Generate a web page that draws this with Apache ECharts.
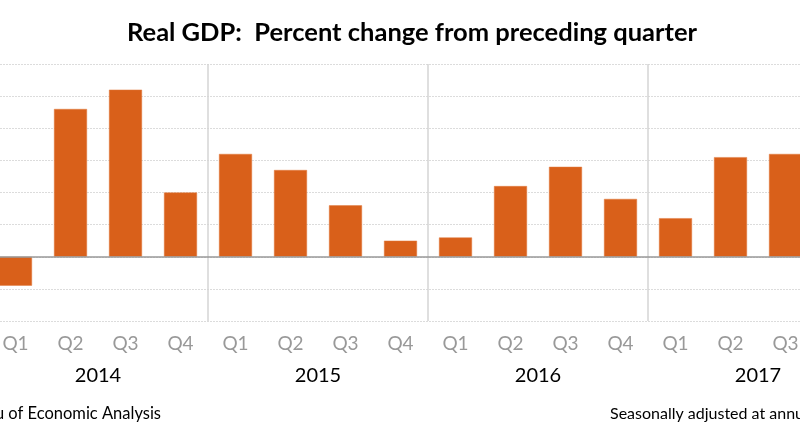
<!DOCTYPE html>
<html>
<head>
<meta charset="utf-8">
<script src="https://cdn.jsdelivr.net/npm/echarts@6/dist/echarts.min.js"></script>
<style>
html,body{margin:0;padding:0;background:#fff;}
#c{width:800px;height:443px;}
</style>
</head>
<body>
<div id="c"></div>
<script>
var quarters = ['Q1','Q2','Q3','Q4','Q1','Q2','Q3','Q4','Q1','Q2','Q3','Q4','Q1','Q2','Q3','Q4'];
var years = ['2014','2015','2016','2017'];
var gdpChange = [-0.9, 4.6, 5.2, 2.0, 3.2, 2.7, 1.6, 0.5, 0.6, 2.2, 2.8, 1.8, 1.2, 3.1, 3.2, null];
var titleText = 'Real GDP:  Percent change from preceding quarter';
var sourceText = 'Source: U.S. Bureau of Economic Analysis';
var noteText = 'Seasonally adjusted at annual rates';

var FONT = 'Lato';
var chart = echarts.init(document.getElementById('c'), null, {renderer:'canvas'});
chart.setOption({
  animation: false,
  backgroundColor: '#ffffff',
  title: {
    text: titleText,
    left: 407, top: 15, textAlign: 'center',
    textStyle: {fontFamily: FONT, fontSize: 25.5, fontWeight: 'bold', color: '#000'}
  },
  grid: {left: -12, width: 880, top: 64, height: 257, containLabel: false, outerBoundsMode: 'none'},
  xAxis: [{
    type: 'category', data: quarters, position: 'bottom',
    axisLine: {show: false, onZero: false}, axisTick: {show: false},
    axisLabel: {color: '#999999', fontFamily: FONT, fontSize: 19, margin: 13},
    splitLine: {show: false}
  }, {
    type: 'category', data: years, position: 'bottom', offset: 30,
    axisLine: {show: false, onZero: false}, axisTick: {show: false},
    axisLabel: {color: '#000', fontFamily: FONT, fontSize: 20, margin: 15},
    splitLine: {show: true, lineStyle: {color: '#d4d4d4', width: 1.5}}
  }],
  yAxis: {
    type: 'value', min: -2, max: 6, interval: 1,
    axisLine: {show: false}, axisTick: {show: false}, axisLabel: {show: false},
    splitLine: {show: true, lineStyle: {color: '#dcdcdc', type: [2, 1], width: 1}}
  },
  series: [{
    type: 'bar', data: gdpChange, xAxisIndex: 0, barWidth: 33,
    itemStyle: {color: '#D9601A', borderColor: '#E07A3E', borderWidth: 0.5},
    markLine: {
      silent: true, symbol: 'none', label: {show: false},
      lineStyle: {color: '#999999', width: 1.5, type: 'solid'},
      data: [{yAxis: 0}]
    }
  }],
  graphic: [{
    type: 'text', x: 161, y: 414,
    style: {text: sourceText, fontFamily: FONT, fontSize: 16.5, fill: '#000', align: 'right', verticalAlign: 'middle'}
  }, {
    type: 'text', x: 610, y: 414,
    style: {text: noteText, fontFamily: FONT, fontSize: 16, fill: '#000', align: 'left', verticalAlign: 'middle'}
  }]
});
</script>
</body>
</html>
